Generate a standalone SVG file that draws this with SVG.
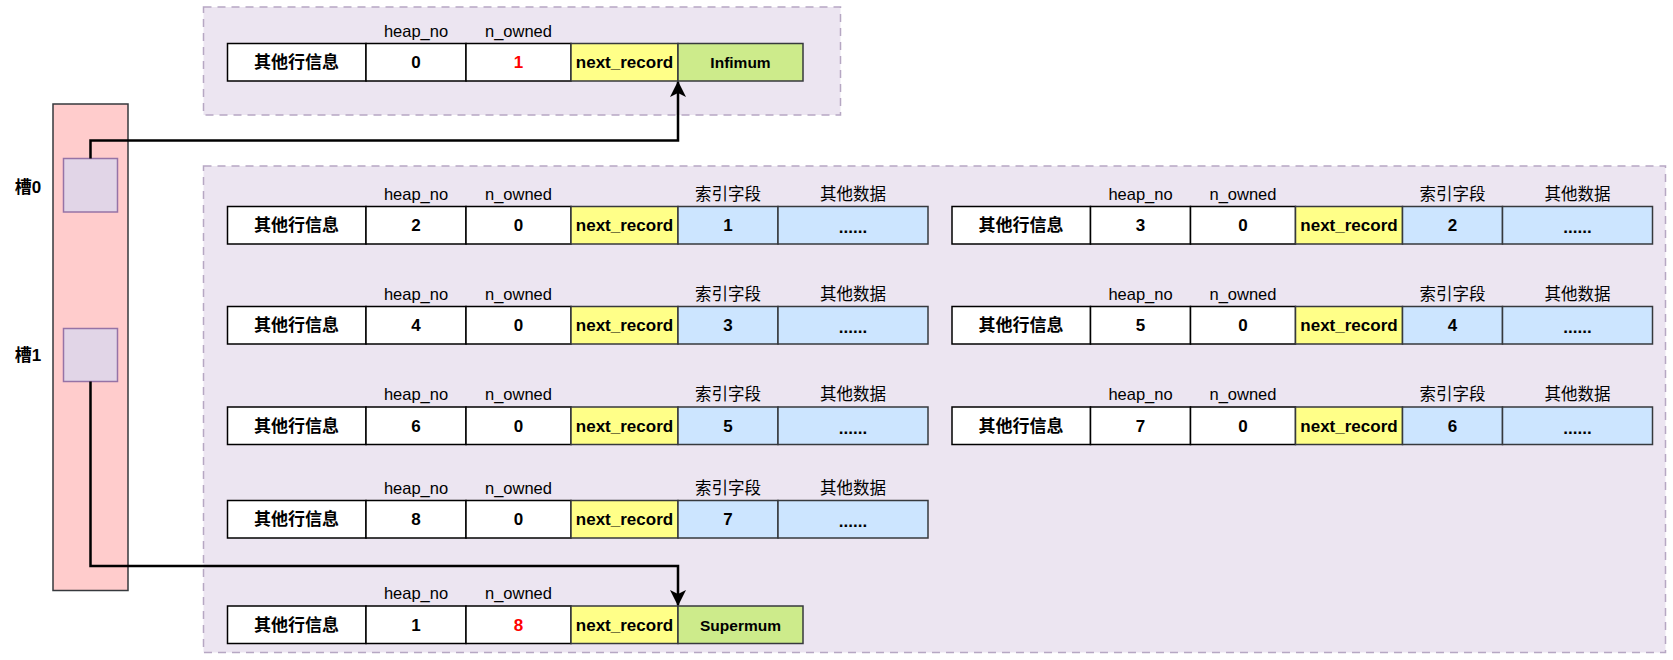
<svg xmlns="http://www.w3.org/2000/svg" width="1673" height="660" viewBox="0 0 1673 660">
<style>
text{font-family:"Liberation Sans","Noto Sans CJK SC",sans-serif;text-anchor:middle;dominant-baseline:central;fill:#000}
.h{font-size:16.5px}
.c{font-size:17px;font-weight:bold}
.s{font-size:15.5px;font-weight:bold}
.red{fill:#ff0000}
.w{fill:#ffffff;stroke:#000;stroke-width:1.5}
.y{fill:#ffff88;stroke:#36393d;stroke-width:1.5}
.b{fill:#cce5ff;stroke:#36393d;stroke-width:1.5}
.g{fill:#cdeb8b;stroke:#36393d;stroke-width:1.5}
.box{fill:#ece5f1;stroke:#b6a7c3;stroke-width:1.5;stroke-dasharray:8 6}
.conn{fill:none;stroke:#000;stroke-width:2.5}
</style>
<defs>
<marker id="arr" viewBox="0 0 16 16" refX="15" refY="8" markerWidth="16" markerHeight="16" markerUnits="userSpaceOnUse" orient="auto">
<path d="M0,0 L16,8 L0,16 L4,8 Z" fill="#000"/>
</marker>
<g id="rowbase">
<rect class="w" x="0" y="0" width="138.5" height="37.5"/>
<rect class="w" x="138.5" y="0" width="100" height="37.5"/>
<rect class="w" x="238.5" y="0" width="105" height="37.5"/>
<rect class="y" x="343.5" y="0" width="107" height="37.5"/>
<text class="c" x="69" y="19">其他行信息</text>
<text class="c" x="397" y="19">next_record</text>
<text class="h" x="188.5" y="-13">heap_no</text>
<text class="h" x="291" y="-13">n_owned</text>
</g>
<g id="rowdata">
<use href="#rowbase"/>
<rect class="b" x="450.5" y="0" width="100" height="37.5"/>
<rect class="b" x="550.5" y="0" width="150" height="37.5"/>
<text class="c" x="625.5" y="21">......</text>
<text class="h" x="500.5" y="-13">索引字段</text>
<text class="h" x="625.5" y="-13">其他数据</text>
<text class="c" x="291" y="19">0</text>
</g>
</defs>

<g id="slots">
<rect x="53" y="104" width="75" height="486.5" fill="#ffcccc" stroke="#36393d" stroke-width="1.5"/>
</g>
<g id="slot0">
<rect x="63.5" y="158.5" width="54" height="53.5" fill="#e1d5e7" stroke="#9673a6" stroke-width="1.5"/>
<text class="c" x="28" y="187">槽0</text>
</g>
<g id="slot1">
<rect x="63.5" y="328.5" width="54" height="53" fill="#e1d5e7" stroke="#9673a6" stroke-width="1.5"/>
<text class="c" x="28" y="355">槽1</text>
</g>

<g id="infimum-group">
<rect class="box" x="203.5" y="7" width="637" height="108"/>
</g>
<g id="records-group">
<rect class="box" x="203.5" y="166" width="1462" height="486.5"/>
</g>

<g id="infimum" transform="translate(227.5,43.5)">
<use href="#rowbase"/>
<rect class="g" x="450.5" y="0" width="125" height="37.5"/>
<text class="s" x="513" y="19">Infimum</text>
<text class="c" x="188.5" y="19">0</text>
<text class="c red" x="291" y="19">1</text>
</g>

<g id="rec2" transform="translate(227.5,206.5)">
<use href="#rowdata"/>
<text class="c" x="188.5" y="19">2</text>
<text class="c" x="500.5" y="19">1</text>
</g>
<g id="rec3" transform="translate(952,206.5)">
<use href="#rowdata"/>
<text class="c" x="188.5" y="19">3</text>
<text class="c" x="500.5" y="19">2</text>
</g>
<g id="rec4" transform="translate(227.5,306.5)">
<use href="#rowdata"/>
<text class="c" x="188.5" y="19">4</text>
<text class="c" x="500.5" y="19">3</text>
</g>
<g id="rec5" transform="translate(952,306.5)">
<use href="#rowdata"/>
<text class="c" x="188.5" y="19">5</text>
<text class="c" x="500.5" y="19">4</text>
</g>
<g id="rec6" transform="translate(227.5,407)">
<use href="#rowdata"/>
<text class="c" x="188.5" y="19">6</text>
<text class="c" x="500.5" y="19">5</text>
</g>
<g id="rec7" transform="translate(952,407)">
<use href="#rowdata"/>
<text class="c" x="188.5" y="19">7</text>
<text class="c" x="500.5" y="19">6</text>
</g>
<g id="rec8" transform="translate(227.5,500.5)">
<use href="#rowdata"/>
<text class="c" x="188.5" y="19">8</text>
<text class="c" x="500.5" y="19">7</text>
</g>

<g id="supremum" transform="translate(227.5,606)">
<use href="#rowbase"/>
<rect class="g" x="450.5" y="0" width="125" height="37.5"/>
<text class="s" x="513" y="19">Supermum</text>
<text class="c" x="188.5" y="19">1</text>
<text class="c red" x="291" y="19">8</text>
</g>

<g id="connectors">
<path class="conn" d="M90.5,158.5 V140.5 H678 V82" marker-end="url(#arr)"/>
<path class="conn" d="M90.5,381.5 V566 H678 V605" marker-end="url(#arr)"/>
</g>
</svg>
